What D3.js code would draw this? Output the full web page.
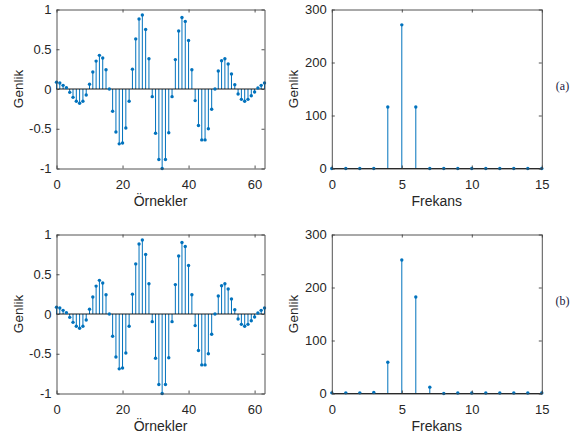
<!DOCTYPE html>
<html lang="tr">
<head>
<meta charset="utf-8">
<title>Genlik / Frekans</title>
<script src="https://cdn.jsdelivr.net/npm/d3@7"></script>
<style>
  body { margin: 0; background: #fff; }
  svg text { font-family: "Liberation Sans", Arial, sans-serif; fill: #262626; }
  svg text.lbl { font-family: "Liberation Serif", "Times New Roman", serif; fill: #1a1a40; }
</style>
</head>
<body>
<div id="chart"></div>
<script>
// sample signal (same in a and b)
const samples = [0.084, 0.075, 0.046, 0.017, -0.042, -0.105, -0.155, -0.18, -0.155, -0.075,
  0.059, 0.213, 0.351, 0.423, 0.389, 0.243, 0.0, -0.28, -0.54, -0.69,
  -0.68, -0.49, -0.155, 0.25, 0.63, 0.88, 0.93, 0.75, 0.38, -0.096,
  -0.556, -0.887, -1.0, -0.887, -0.55, -0.096, 0.37, 0.73, 0.9, 0.85,
  0.61, 0.243, -0.146, -0.46, -0.64, -0.64, -0.5, -0.255, 0.0, 0.226,
  0.356, 0.38, 0.314, 0.188, 0.054, -0.063, -0.13, -0.155, -0.13, -0.084,
  -0.038, 0.013, 0.046, 0.075];
const freqs = d3.range(0, 16);
const specA = [0, 0, 0, 0, 116, 271, 116, 0, 0, 0, 0, 0, 0, 0, 0, 0];
const specB = [1.2, 1.2, 1.2, 2, 59, 252, 182, 12, 0, 1, 1, 1, 1, 1, 1, 1];
const sigTicks = [0, 20, 40, 60];
const sigYTicks = [-1, -0.5, 0, 0.5, 1];
const specXTicks = [0, 5, 10, 15];
const specYTicks = [0, 100, 200, 300];
const panelTags = ["(a)", "(b)"];

const w = 571, h = 439;
const blue = "#0072BD";
const axisCol = "#404040";

const svg = d3.select("#chart").append("svg")
  .attr("width", w)
  .attr("height", h);

function stemPanel(opt) {
  const x = d3.scaleLinear().domain(opt.xDomain).range([opt.left, opt.right]);
  const y = d3.scaleLinear().domain(opt.yDomain).range([opt.bottom, opt.top]);
  const g = svg.append("g");

  // stems
  g.selectAll("line.stem")
    .data(opt.values)
    .enter()
    .append("line")
      .attr("class", "stem")
      .attr("x1", (d, i) => x(opt.xs[i]))
      .attr("x2", (d, i) => x(opt.xs[i]))
      .attr("y1", y(0))
      .attr("y2", (d) => y(d))
      .attr("stroke", blue)
      .attr("stroke-width", 1);

  // baseline
  g.append("line")
    .attr("x1", x(opt.xDomain[0]))
    .attr("x2", x(opt.xDomain[1]))
    .attr("y1", y(0))
    .attr("y2", y(0))
    .attr("stroke", "#000")
    .attr("stroke-width", 0.9);

  g.selectAll("circle")
    .data(opt.values)
    .enter()
    .append("circle")
      .attr("cx", (d, i) => x(opt.xs[i]))
      .attr("cy", (d) => y(d))
      .attr("r", 1.7)
      .attr("fill", blue);

  const fmt = (d) => String(d);
  const ax = (gen, tx, ty) => {
    const a = g.append("g")
      .attr("transform", `translate(${tx},${ty})`)
      .call(gen);
    a.select(".domain").attr("stroke", axisCol).attr("stroke-width", 0.9);
    a.selectAll(".tick line").attr("stroke", axisCol).attr("stroke-width", 0.9);
    return a;
  };

  const bx = ax(d3.axisBottom(x).tickValues(opt.xTicks).tickFormat(fmt).tickSizeInner(-3).tickSizeOuter(0).tickPadding(11), 0, opt.bottom);
  bx.selectAll("text").attr("font-size", 13).attr("fill", "#262626");
  ax(d3.axisTop(x).tickValues(opt.xTicks).tickFormat("").tickSizeInner(-3).tickSizeOuter(0), 0, opt.top);
  const ly = ax(d3.axisLeft(y).tickValues(opt.yTicks).tickFormat(fmt).tickSizeInner(-3).tickSizeOuter(0).tickPadding(5), opt.left, 0);
  ly.selectAll("text").attr("font-size", 13).attr("fill", "#262626");
  ax(d3.axisRight(y).tickValues(opt.yTicks).tickFormat("").tickSizeInner(-3).tickSizeOuter(0), opt.right, 0);

  g.append("text")
    .attr("x", (opt.left + opt.right) / 2)
    .attr("y", opt.bottom + 33)
    .attr("dy", "0.35em")
    .attr("text-anchor", "middle")
    .attr("font-size", 14)
    .text(opt.xLabel);

  g.append("text")
    .attr("transform", `translate(${opt.yLabelX},${(opt.top + opt.bottom) / 2}) rotate(-90)`)
    .attr("text-anchor", "middle")
    .attr("dy", "0.35em")
    .attr("font-size", 13.5)
    .text("Genlik");
}

const rows = [{ top: 9.5, bottom: 168.5, spec: specA }, { top: 234.5, bottom: 393.5, spec: specB }];

rows.forEach((r, i) => {
  stemPanel({
    left: 56.5, right: 264.5, top: r.top, bottom: r.bottom,
    xDomain: [0, 63], yDomain: [-1, 1],
    xs: d3.range(0, 64), values: samples,
    xTicks: sigTicks, yTicks: sigYTicks,
    xLabel: "Örnekler", yLabelX: 18
  });
  stemPanel({
    left: 331.8, right: 541.8, top: r.top, bottom: r.bottom,
    xDomain: [0, 15], yDomain: [0, 300],
    xs: freqs, values: r.spec,
    xTicks: specXTicks, yTicks: specYTicks,
    xLabel: "Frekans", yLabelX: 293
  });
  svg.append("text")
    .attr("class", "lbl")
    .attr("x", 562.5)
    .attr("y", i === 0 ? 85.5 : 301)
    .attr("dy", "0.35em")
    .attr("text-anchor", "middle")
    .attr("font-size", 12)
    .text(panelTags[i]);
});
</script>
</body>
</html>
